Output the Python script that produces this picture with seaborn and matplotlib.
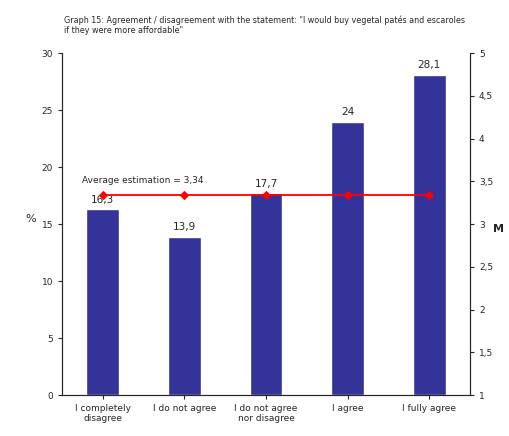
import matplotlib
matplotlib.use("Agg")
import matplotlib.pyplot as plt
import seaborn as sns
import pandas as pd

categories = ["I completely\ndisagree", "I do not agree", "I do not agree\nnor disagree", "I agree", "I fully agree"]
values = [16.3, 13.9, 17.7, 24, 28.1]
labels = ["16,3", "13,9", "17,7", "24", "28,1"]
avg = [3.34] * 5

sns.set_style("white")
plt.rcParams['font.family'] = ['DejaVu Sans']
fig = plt.figure(figsize=(5.1, 4.36), dpi=100)
ax = fig.add_axes([0.1216, 0.094, 0.8, 0.784])
df = pd.DataFrame({"cat": categories, "val": values})
sns.barplot(data=df, x="cat", y="val", color="#333399", saturation=1, width=0.4, ax=ax)
ax.set_ylim(0, 30)
ax.set_yticks(range(0, 31, 5))
ax.set_xlabel("")
ax.set_ylabel("%", rotation=0, fontsize=8, labelpad=8)
for i, (v, l) in enumerate(zip(values, labels)):
    ax.text(i, v + 0.4, l, ha="center", va="bottom", fontsize=7.5)
ax.tick_params(axis="both", labelsize=6.5, length=3, left=True, bottom=True)
ax.spines["top"].set_visible(False)
for s in ax.spines.values():
    s.set_color("#444444"); s.set_linewidth(0.8)

ax2 = ax.twinx()
sns.lineplot(x=list(range(5)), y=avg, color="red", marker="D", markersize=4, markeredgecolor="red", linewidth=1.3, ax=ax2)
ax2.set_ylim(1, 5)
ticks = [1 + 0.5 * i for i in range(9)]
ax2.set_yticks(ticks)
ax2.set_yticklabels([f"{t:g}".replace(".", ",") for t in ticks])
ax2.tick_params(axis="y", labelsize=6.5, length=3, right=True)
ax2.set_ylabel("M", rotation=0, fontsize=8, fontweight="bold", labelpad=4)
ax2.spines["top"].set_visible(False)
ax2.text(-0.25, 3.34 + 0.12, "Average estimation = 3,34", fontsize=6.5, ha="left", va="bottom")
ax.set_xlim(-0.5, 4.5)

fig.text(0.125, 0.965, "Graph 15: Agreement / disagreement with the statement: \"I would buy vegetal patés and escaroles\nif they were more affordable\"", fontsize=5.8, va="top", ha="left")
fig.savefig("out.png", dpi=100)
